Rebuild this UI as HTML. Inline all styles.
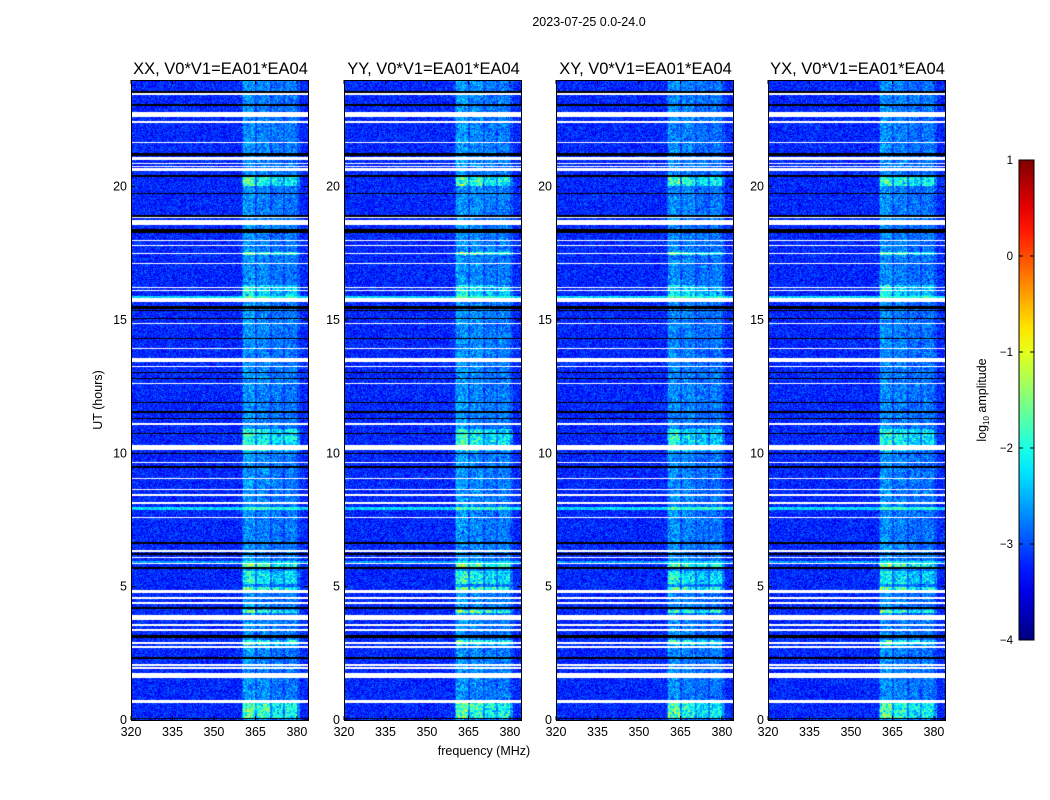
<!DOCTYPE html>
<html><head><meta charset="utf-8">
<style>
body{margin:0;background:#fff;width:1050px;height:800px;overflow:hidden;font-family:"Liberation Sans",sans-serif}
#root{position:relative;width:1050px;height:800px}
canvas{position:absolute}
svg{position:absolute;left:0;top:0}
</style></head>
<body>
<div id="root">
<svg id="ov" width="1050" height="800"></svg>
</div>
<script>
// ---- data (hours, MHz, log10 amplitude) ----
const panelTitles = ["XX, V0*V1=EA01*EA04","YY, V0*V1=EA01*EA04","XY, V0*V1=EA01*EA04","YX, V0*V1=EA01*EA04"];
const panelBandAmp = [1.0, 1.05, 0.95, 0.95];
const xTicks = [320,335,350,365,380];
const yTicks = [0,5,10,15,20];
const cbTicks = [1,0,-1,-2,-3,-4];
const baseLevel = -3.2;
const bandRanges = [[360.5,364.8,1.0],[365.5,370.2,0.85],[371.0,374.9,0.7],[375.7,380.0,0.75]];
const interBandLevel = 0.35;
const whiteGaps = [[23.42,23.5],[22.6,22.8],[22.4,22.46],[21.62,21.68],[21.0,21.12],[20.84,20.89],[20.73,20.78],[20.6,20.69],[18.81,18.87],[18.56,18.74],[17.95,18.0],[17.76,17.81],[17.46,17.51],[17.09,17.14],[16.19,16.25],[16.07,16.12],[15.66,15.81],[14.84,14.89],[13.9,13.96],[13.41,13.56],[13.23,13.28],[12.59,12.65],[11.06,11.12],[10.11,10.3],[9.63,9.69],[9.03,9.09],[8.62,8.68],[8.4,8.46],[8.1,8.16],[7.57,7.63],[6.3,6.36],[6.07,6.13],[5.85,5.9],[4.76,4.87],[4.54,4.6],[4.35,4.41],[3.75,3.93],[3.53,3.59],[3.34,3.4],[2.85,2.91],[2.7,2.76],[2.03,2.09],[1.92,1.98],[1.57,1.76],[0.64,0.75]];
const blackLines = [[23.53,23.59],[23.04,23.1],[21.16,21.28],[20.38,20.44],[19.71,19.77],[18.88,18.94],[18.28,18.43],[15.43,15.54],[15.33,15.38],[15.03,15.09],[14.28,14.34],[13.0,13.06],[12.78,12.84],[11.88,11.94],[11.51,11.57],[11.28,11.34],[10.72,10.78],[9.97,10.03],[9.45,9.51],[6.6,6.66],[6.19,6.25],[5.66,5.72],[4.16,4.22],[3.07,3.18],[2.29,2.35],[0.02,0.06]];
const brightRows = [[20.04,20.38,2.6],[17.45,17.56,2.9],[15.9,16.3,2.0],[10.1,10.9,2.3],[5.73,5.85,3.0],[5.1,5.6,2.2],[4.87,4.98,2.9],[4.0,4.12,2.9],[2.8,3.0,2.5],[0.07,0.64,2.7]];
const fullRowCyan = [[15.81,15.9,0.9],[7.87,7.98,0.9],[5.9,5.95,0.6]];

const PX = [131,344,556,768], PW = 177, PY = 80, PH = 640;
const F0 = 320, F1 = 384, T0 = 0, T1 = 24;
function xScale(f,i){return PX[i] + (f-F0)/(F1-F0)*PW;}
function yScale(h){return PY + PH - (h-T0)/(T1-T0)*PH;}
function jet(v){let t=(v+4)/5;t=Math.max(0,Math.min(1,t));
 const c=x=>Math.round(255*Math.max(0,Math.min(1,1.5-Math.abs(x))));
 return [c(4*t-3),c(4*t-2),c(4*t-1)];}
function hash(a,b,s){let h=(a*374761393+b*668265263+s*2147483647)|0;h=(h^(h>>>13))*1274126177|0;return ((h^(h>>>16))>>>0)/4294967296;}
function inR(h,list){for(const r of list){if(h>=r[0]&&h<=r[1])return r;}return null;}
function colLevel(f){for(const b of bandRanges){if(f>=b[0]&&f<=b[1])return b[2];}return (f>360&&f<381)?interBandLevel:0;}

const root=document.getElementById('root');
const ov=document.getElementById('ov');
const NS="http://www.w3.org/2000/svg";
function mk(tag,attrs,name,txt){const e=document.createElementNS(NS,tag);for(const k in attrs)e.setAttribute(k,attrs[k]);
 
 
 if(txt!==undefined)e.textContent=txt;ov.appendChild(e);return e;}

for(let p=0;p<4;p++){
 const cv=document.createElement('canvas');
 cv.width=PW;cv.height=PH;cv.style.left=PX[p]+'px';cv.style.top=PY+'px';
 
 
 root.insertBefore(cv,ov);
 const ctx=cv.getContext('2d');const img=ctx.createImageData(PW,PH);
 for(let y=0;y<PH;y++){
  const h=T1-(y+0.5)/PH*(T1-T0);
  const white=inR(h,whiteGaps), black=inR(h,blackLines);
  const br=inR(h,brightRows), fc=inR(h,fullRowCyan);
  const boost=br?br[2]:1;
  for(let x=0;x<PW;x++){
   const f=F0+(x+0.5)/PW*(F1-F0);const i=(y*PW+x)*4;let rgb;
   if(white)rgb=[255,255,255];else if(black)rgb=[0,0,0];
   else{let v=baseLevel+(hash(x,y,p)-0.5)*0.75+(fc?fc[2]:0);
    v+=0.55*colLevel(f)*boost*panelBandAmp[p]*(0.6+0.8*hash(x>>1,y>>1,p+7));
    rgb=jet(v);}
   img.data[i]=rgb[0];img.data[i+1]=rgb[1];img.data[i+2]=rgb[2];img.data[i+3]=255;}
 }
 ctx.putImageData(img,0,0);
 mk('rect',{x:PX[p]+0.5,y:PY+0.5,width:PW,height:PH,fill:'none',stroke:'#000','stroke-width':1},'panel-frame-'+(p+1));
 mk('text',{x:PX[p]+PW/2+1,y:74,'text-anchor':'middle','font-size':16.5},'panel-title-'+(p+1),panelTitles[p]);
 for(const t of xTicks){const x=xScale(t,p);
  mk('line',{x1:x,x2:x,y1:PY+PH,y2:PY+PH-4,stroke:'#000'},'x-tick');
  mk('line',{x1:x,x2:x,y1:PY,y2:PY+4,stroke:'#000'},'x-tick-top');
  mk('text',{x:x,y:736,'text-anchor':'middle','font-size':12.5},'x-tick-label',String(t));}
 for(const t of yTicks){const y=yScale(t);
  mk('line',{x1:PX[p],x2:PX[p]+4,y1:y,y2:y,stroke:'#000'},'y-tick');
  mk('line',{x1:PX[p]+PW,x2:PX[p]+PW-4,y1:y,y2:y,stroke:'#000'},'y-tick-right');
  mk('text',{x:PX[p]-4,y:y+4,'text-anchor':'end','font-size':12.5},'y-tick-label',String(t));}
}
mk('text',{x:589,y:26,'text-anchor':'middle','font-size':12.5},'figure-title','2023-07-25 0.0-24.0');
mk('text',{x:484,y:755,'text-anchor':'middle','font-size':12.5},'x-axis-title','frequency (MHz)');
mk('text',{x:102,y:400,'text-anchor':'middle','font-size':12.5,transform:'rotate(-90 102 400)'},'y-axis-title','UT (hours)');

// colorbar
const CX=1019,CY=160,CW=15,CH=480;
const defs=mk('defs',{},'colorbar-defs');
const lg=document.createElementNS(NS,'linearGradient');lg.setAttribute('id','jetg');lg.setAttribute('x1','0');lg.setAttribute('y1','1');lg.setAttribute('x2','0');lg.setAttribute('y2','0');
for(let k=0;k<=20;k++){const v=-4+5*k/20;const c=jet(v);const s=document.createElementNS(NS,'stop');s.setAttribute('offset',k/20);s.setAttribute('stop-color',`rgb(${c})`);lg.appendChild(s);}
defs.appendChild(lg);
mk('rect',{x:CX,y:CY,width:CW,height:CH,fill:'url(#jetg)',stroke:'#000'},'colorbar');
for(const t of cbTicks){const y=CY+(1-t)/5*CH;
 mk('line',{x1:CX,x2:CX+4,y1:y,y2:y,stroke:'#000'},'colorbar-tick');
 mk('line',{x1:CX+CW,x2:CX+CW-4,y1:y,y2:y,stroke:'#000'},'colorbar-tick-right');
 mk('text',{x:CX-6,y:y+4,'text-anchor':'end','font-size':11.5},'colorbar-tick-label',t<0?'\u2212'+(-t):String(t));}
const cl=mk('text',{x:986,y:400,'text-anchor':'middle','font-size':12.5,transform:'rotate(-90 986 400)'},'colorbar-label');
cl.innerHTML='log<tspan font-size="8" dy="3">10</tspan><tspan dy="-3"> amplitude</tspan>';
</script>
</body></html>
